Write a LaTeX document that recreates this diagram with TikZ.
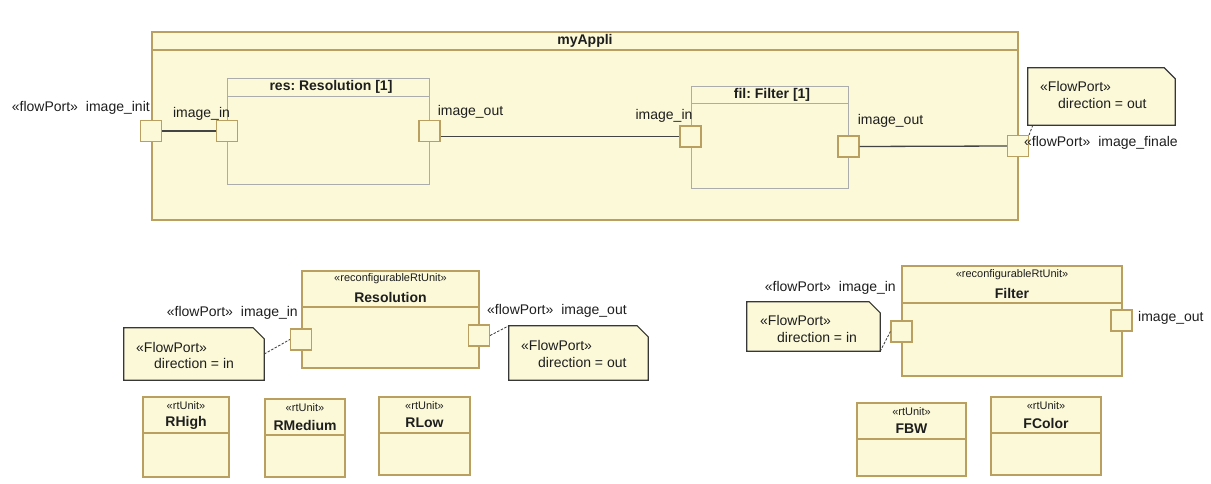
\documentclass[tikz,border=0pt]{standalone}
\usepackage{fontspec}
\setmainfont{Liberation Sans}
\usetikzlibrary{positioning,calc}
\frenchspacing
\definecolor{umlfill}{RGB}{251,249,216}
\definecolor{umledge}{RGB}{186,160,96}
\definecolor{partedge}{RGB}{172,172,172}
\definecolor{noteedge}{RGB}{55,55,55}
\definecolor{wirecol}{RGB}{68,68,68}
\definecolor{ink}{RGB}{30,30,30}
\tikzset{
  unitbox/.style={draw=umledge, fill=umlfill, line width=1.2pt},
  unitline/.style={draw=umledge, line width=1.2pt},
  partbox/.style={draw=partedge, fill=umlfill, line width=1pt},
  port/.style={draw=umledge, fill=umlfill, line width=1.2pt, minimum size=21pt, inner sep=0pt},
  lbl/.style={font=\fontsize{14}{16}\selectfont, text=ink, inner sep=0pt},
  ttl/.style={font=\fontsize{14}{16}\selectfont\bfseries, text=ink, inner sep=0pt},
  stereo/.style={font=\fontsize{11}{13}\selectfont, text=ink, inner sep=0pt},
  notebox/.style={draw=noteedge, fill=umlfill, line width=1.2pt},
  notespot/.style={inner sep=0pt},
  wire/.style={draw=wirecol, line width=1.3pt},
  anchorline/.style={draw=noteedge, line width=0.8pt, dash pattern=on 2.5pt off 1.5pt},
}
\begin{document}
\begin{tikzpicture}[x=1pt, y=-1pt]
  \useasboundingbox (0,0) rectangle (1211,483);
  \def\notepath#1{\draw[notebox] (#1.north west) -- ([xshift=-11pt]#1.north east)
      -- ([yshift=-11pt]#1.north east) -- (#1.south east) -- (#1.south west) -- cycle;}
  % myAppli
  \draw[unitbox, line width=1.6pt] (152,32) rectangle (1018,220);
  \draw[unitline, line width=1.6pt] (152,50) -- (1018,50);
  \node[ttl] (tAppli) at (585,41) {myAppli};
  \draw[partbox] (227,78) rectangle (429,184);
  \draw[draw=partedge, line width=1pt] (227,96) -- (429,96);
  \node[ttl] (tRes) at (331,87) {res: Resolution [1]};
  \draw[partbox] (691,86) rectangle (848,188);
  \draw[draw=partedge, line width=1pt] (691,103) -- (848,103);
  \node[ttl] (tFil) at (772,95) {fil: Filter [1]};
  \node[port] (pInit) at (151,131) {};
  \node[port] (resIn) at (227,131) {};
  \node[port] (resOut) at (429.5,131) {};
  \node[port] (filIn) at (690.5,136.5) {};
  \node[port] (filOut) at (848.5,146.5) {};
  \node[port] (pFinale) at (1018,146) {};
  \draw[wire] (pInit.east) -- (resIn.west);
  \draw[wire] (resOut.east |- filIn.west) -- (filIn.west);
  \draw[wire] (filOut.east) -- (pFinale.west);
  \node[lbl, anchor=east] (lInit) at (150,108) {«flowPort»\hspace{8pt}image\_init};
  \node[lbl] (lResIn) at (201.5,114) {image\_in};
  \node[lbl] (lResOut) at (470.5,112) {image\_out};
  \node[lbl] (lFilIn) at (664,116) {image\_in};
  \node[lbl] (lFilOut) at (890.5,121) {image\_out};
  \node[lbl, anchor=west] (lFinale) at (1024,143) {«flowPort»\hspace{8pt}image\_finale};
  \node[notespot, minimum width=147pt, minimum height=57pt] (nFinale) at (1101.5,96.5) {};
  \notepath{nFinale}
  \node[lbl, anchor=west] (nFinaleA) at (1040,86) {«FlowPort»};
  \node[lbl, anchor=west] (nFinaleB) at (1058,103) {direction = out};
  \draw[anchorline] ([xshift=5pt]nFinale.south west) -- (pFinale.north east);
  % Resolution
  \draw[unitbox] (302,271) rectangle (479,368);
  \draw[unitline] (302,307) -- (479,307);
  \node[stereo] (sResolution) at (390.5,279) {«reconfigurableRtUnit»};
  \node[ttl] (tResolution) at (390.5,297) {Resolution};
  \node[port] (rIn) at (301,339.5) {};
  \node[port] (rOut) at (479,335.5) {};
  \node[lbl, anchor=east] (lRIn) at (298,313) {«flowPort»\hspace{8pt}image\_in};
  \node[lbl, anchor=west] (lROut) at (487,311) {«flowPort»\hspace{8pt}image\_out};
  \node[notespot, minimum width=140pt, minimum height=52pt] (nRIn) at (194,354) {};
  \notepath{nRIn}
  \node[lbl, anchor=west] (nRInA) at (136,347) {«FlowPort»};
  \node[lbl, anchor=west] (nRInB) at (154,363) {direction = in};
  \node[notespot, minimum width=139pt, minimum height=54pt] (nROut) at (578.5,353) {};
  \notepath{nROut}
  \node[lbl, anchor=west] (nROutA) at (521,345) {«FlowPort»};
  \node[lbl, anchor=west] (nROutB) at (538,362) {direction = out};
  \draw[anchorline] (nRIn.east) -- (rIn.west);
  \draw[anchorline] (rOut.east) -- (nROut.north west);
  % Filter
  \draw[unitbox] (902,266) rectangle (1122,376);
  \draw[unitline] (902,303) -- (1122,303);
  \node[stereo] (sFilter) at (1012,275) {«reconfigurableRtUnit»};
  \node[ttl] (tFilter) at (1012,293) {Filter};
  \node[port] (fIn) at (901.5,331.5) {};
  \node[port] (fOut) at (1121.5,320.5) {};
  \node[lbl, anchor=east] (lFIn) at (896,288) {«flowPort»\hspace{8pt}image\_in};
  \node[lbl, anchor=west] (lFOut) at (1138,318) {image\_out};
  \node[notespot, minimum width=133pt, minimum height=49pt] (nFIn) at (813.5,326.5) {};
  \notepath{nFIn}
  \node[lbl, anchor=west] (nFInA) at (760,320) {«FlowPort»};
  \node[lbl, anchor=west] (nFInB) at (777,337) {direction = in};
  \draw[anchorline] (nFIn.south east) -- (fIn.west);
  % rtUnits
  \foreach \nm/\xa/\ya/\xb/\yb in {RHigh/143/397/229/477, RMedium/265/399/345/477,
      RLow/379/397/470/475, FBW/857/403/966/476, FColor/991/397/1101/475} {
    \draw[unitbox] (\xa,\ya) rectangle (\xb,\yb);
    \draw[unitline] (\xa,\ya+36) -- (\xb,\ya+36);
    \node[stereo] (s\nm) at ({(\xa+\xb)/2},\ya+9) {«rtUnit»};
    \node[ttl] (t\nm) at ({(\xa+\xb)/2},\ya+26) {\nm};
  }
\end{tikzpicture}
\end{document}
